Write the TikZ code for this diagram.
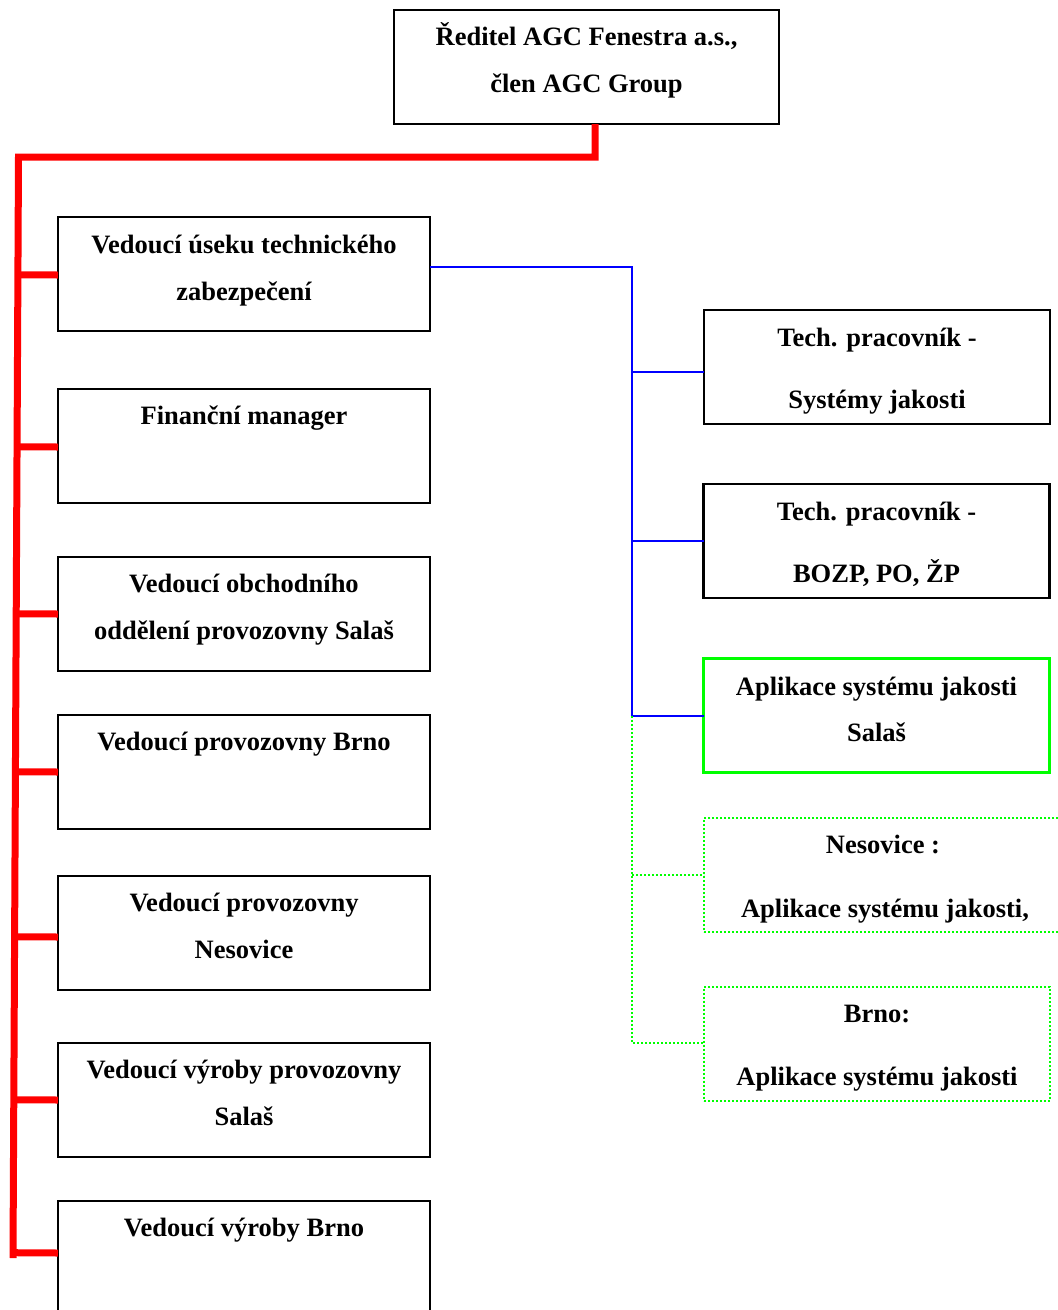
\documentclass[tikz,border=0pt]{standalone}
\usepackage{fontspec}
\setmainfont{Liberation Serif}
\usetikzlibrary{calc}
\definecolor{redc}{RGB}{255,0,0}
\definecolor{bluec}{RGB}{0,0,255}
\definecolor{greenc}{RGB}{0,255,0}
\begin{document}
\begin{tikzpicture}[x=1pt,y=-1pt,
  box/.style={draw=black,line width=2.5pt,rectangle,inner sep=0pt,outer sep=0pt},
  lbox/.style={box,minimum width=372pt,minimum height=114pt},
  rbox/.style={box,minimum width=346pt,minimum height=114pt},
  gbox/.style={rbox,draw=greenc,line width=3pt},
  gdbox/.style={rbox,draw=greenc,line width=2pt,dash pattern=on 2pt off 2pt},
  txt/.style={font=\fontsize{26.5}{30}\selectfont\bfseries,anchor=base,inner sep=0pt},
  redline/.style={draw=redc,line width=7pt},
  blueline/.style={draw=bluec,line width=2pt},
  greendot/.style={draw=greenc,line width=2pt,dash pattern=on 2pt off 2pt}]
\useasboundingbox (0,0) rectangle (1058,1310);
\begin{scope}
\clip (0,0) rectangle (1058,1310);
% top box
\node[box,minimum width=385pt,minimum height=114pt] (top) at (586.5,67) {};
\node[txt] (t0a) at (586.5,45) {Ředitel AGC Fenestra a.s.,};
\node[txt] (t0b) at (586.5,92) {člen AGC Group};
% left boxes
\node[lbox] (b1) at (244,274) {};
\node[txt] (t1a) at (244,253.5) {Vedoucí úseku technického};
\node[txt] (t1b) at (244,300) {zabezpečení};
\node[lbox] (b2) at (244,446) {};
\node[txt] (t2a) at (244,424.5) {Finanční manager};
\node[lbox] (b3) at (244,614) {};
\node[txt] (t3a) at (244,592.5) {Vedoucí obchodního};
\node[txt] (t3b) at (244,639) {oddělení provozovny Salaš};
\node[lbox] (b4) at (244,772) {};
\node[txt] (t4a) at (244,750.5) {Vedoucí provozovny Brno};
\node[lbox] (b5) at (244,933) {};
\node[txt] (t5a) at (244,911.5) {Vedoucí provozovny};
\node[txt] (t5b) at (244,958) {Nesovice};
\node[lbox] (b6) at (244,1100) {};
\node[txt] (t6a) at (244,1078.5) {Vedoucí výroby provozovny};
\node[txt] (t6b) at (244,1125) {Salaš};
\node[lbox] (b7) at (244,1258) {};
\node[txt] (t7a) at (244,1236.5) {Vedoucí výroby Brno};
% right boxes
\node[rbox] (r1) at (877,367) {};
\node[txt] (u1a) at (877,346) {Tech. pracovník -};
\node[txt] (u1b) at (877,408) {Systémy jakosti};
\node[rbox] (r2) at (876.5,541) {};
\node[txt] (u2a) at (876.5,520) {Tech. pracovník -};
\node[txt] (u2b) at (876.5,582) {BOZP, PO, ŽP};
\node[gbox] (r3) at (876.5,715.5) {};
\node[txt] (u3a) at (876.5,695) {Aplikace systému jakosti};
\node[txt] (u3b) at (876.5,741) {Salaš};
\node[gdbox,minimum width=362pt] (r4) at (885,875) {};
\node[txt] (u4a) at (883,853.5) {Nesovice :};
\node[txt] (u4b) at (885,917) {Aplikace systému jakosti,};
\node[gdbox] (r5) at (877,1043.5) {};
\node[txt] (u5a) at (877,1022.5) {Brno:};
\node[txt] (u5b) at (877,1085) {Aplikace systému jakosti};
% red connectors
\coordinate (rj) at (595,157);
\coordinate (rtop) at (18.5,157);
\coordinate (rbot) at (13,1258);
\draw[redline] (top.south -| rj) -- (rj) -- (rtop) -- (rbot);
\foreach \b/\dy in {b1/1,b2/1,b3/0,b4/0,b5/4,b6/0,b7/-5}{
  \draw[redline] ($(rtop)!($(\b.west)+(0,\dy)$)!(rbot)$) -- ($(\b.west)+(0,\dy)$);
}
% blue connectors
\coordinate (bj) at (632,267);
\coordinate (bv1) at (632,372);
\coordinate (bend) at (632,716);
\draw[blueline] (b1.east |- bj) -- (bj) -- (bend) -- (r3.west |- bend);
\draw[blueline] (bv1) -- (r1.west |- bv1);
\draw[blueline] (bv1 |- r2.west) -- (r2.west);
% green dotted connectors
\coordinate (gend) at (631,1043);
\draw[greendot] (bend) -- (bend |- gend) -- (r5.west |- gend);
\draw[greendot] (bend |- r4.west) -- (r4.west);
\end{scope}
\end{tikzpicture}
\end{document}
